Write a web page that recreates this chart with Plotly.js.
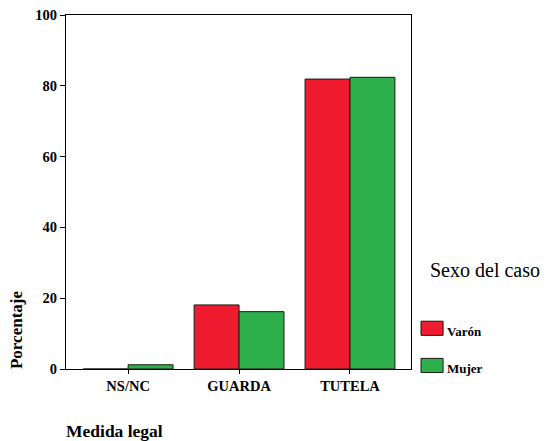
<!DOCTYPE html>
<html>
<head>
<meta charset="utf-8">
<script src="https://cdn.plot.ly/plotly-3.0.1.min.js"></script>
<style>html,body{margin:0;padding:0;background:#fff;}#chart{width:558px;height:441px;}</style>
</head>
<body>
<div id="chart"></div>
<script>
const categories = ["NS/NC", "GUARDA", "TUTELA"];
const seriesNames = ["Varón", "Mujer"];
const varon = [0, 18.1, 81.9];
const mujer = [1.2, 16.2, 82.4];
const yTicks = [0, 20, 40, 60, 80, 100];
const colors = ["#EE1C2E", "#2DB04B"];

const font = "Liberation Serif, Times New Roman, serif";

const traces = [varon, mujer].map((vals, i) => ({
  type: "bar",
  name: seriesNames[i],
  x: categories,
  y: vals,
  marker: {color: colors[i], line: {color: "#1a1a1a", width: 1}},
  showlegend: false,
  hoverinfo: "skip"
}));

const shapes = [];
const annotations = [
  {text: "<b>Porcentaje</b>", xref: "paper", yref: "paper", x: -0.145, y: 0.11,
   textangle: -90, showarrow: false, font: {family: font, size: 17, color: "#000"}, xanchor: "center", yanchor: "middle"},
  {text: "<b>Medida legal</b>", xref: "paper", yref: "paper", x: -0.005, y: -0.175,
   showarrow: false, font: {family: font, size: 17.5, color: "#000"}, xanchor: "left", yanchor: "middle"},
  {text: "Sexo del caso", xref: "paper", yref: "paper", x: 1.05, y: 0.28,
   showarrow: false, font: {family: font, size: 20, color: "#000"}, xanchor: "left", yanchor: "middle"}
];
seriesNames.forEach((n, i) => {
  const yc = i === 0 ? 0.115 : 0.01;
  shapes.push({type: "rect", xref: "paper", yref: "paper", x0: 1.029, x1: 1.093,
    y0: yc - 0.02, y1: yc + 0.02, fillcolor: colors[i], line: {color: "#1a1a1a", width: 1}});
  annotations.push({text: "<b>" + n + "</b>", xref: "paper", yref: "paper", x: 1.099, y: yc - 0.008,
    showarrow: false, font: {family: font, size: 13, color: "#000"}, xanchor: "left", yanchor: "middle"});
});

const layout = {
  width: 558, height: 441,
  margin: {l: 66, r: 147, t: 15, b: 72},
  paper_bgcolor: "#fff", plot_bgcolor: "#fff",
  barmode: "group", bargap: 0.19, bargroupgap: 0,
  font: {family: font, color: "#000"},
  xaxis: {
    type: "category", range: [-0.56, 2.55],
    showline: true, linecolor: "#000", linewidth: 1, mirror: true,
    ticks: "outside", ticklen: 4, tickcolor: "#000",
    tickfont: {family: font, size: 14.5, color: "#000", weight: "bold"},
    showgrid: false, zeroline: false, fixedrange: true
  },
  yaxis: {
    range: [0, 100], tickvals: yTicks, ticktext: yTicks.map(String),
    showline: true, linecolor: "#000", linewidth: 1, mirror: true,
    ticks: "outside", ticklen: 5, tickcolor: "#000",
    tickfont: {family: font, size: 14.5, color: "#000", weight: "bold"},
    showgrid: false, zeroline: false, fixedrange: true
  },
  shapes: shapes,
  annotations: annotations
};

Plotly.newPlot("chart", traces, layout, {displayModeBar: false, staticPlot: true});
</script>
</body>
</html>
